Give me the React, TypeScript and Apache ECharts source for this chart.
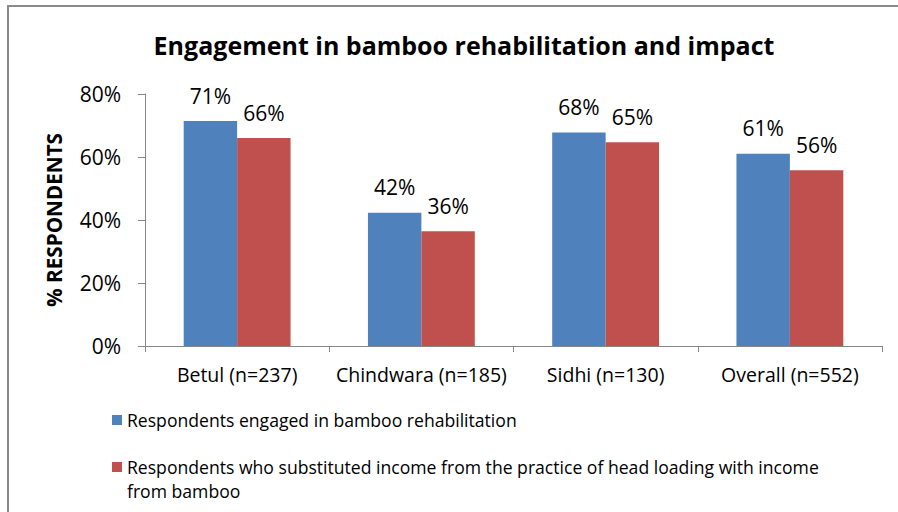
import React, { useEffect, useRef } from "react";
import * as echarts from "echarts";

const categories = ["Betul (n=237)", "Chindwara (n=185)", "Sidhi (n=130)", "Overall (n=552)"];
const engagedValues = [71.4, 42.3, 67.8, 61.0];
const substitutedValues = [66.0, 36.4, 64.7, 55.8];
const seriesNames = [
  "Respondents engaged in bamboo rehabilitation",
  "Respondents who substituted income from the practice of head loading with income from bamboo",
];
const legendLines = [
  "Respondents engaged in bamboo rehabilitation",
  "\nRespondents who substituted income from the practice of head loading with income\nfrom bamboo",
];
const yTicks = [0, 20, 40, 60, 80];
const titleText = "Engagement in bamboo rehabilitation and impact";
const yAxisTitle = "% RESPONDENTS";

const FONT = "'Open Sans', Lato, sans-serif";

export default function App() {
  const ref = useRef<HTMLDivElement>(null);
  useEffect(() => {
    if (!ref.current) return;
    const chart = echarts.init(ref.current, null, { renderer: "svg" });
    const labelStyle = {
      show: true,
      position: "top" as const,
      distance: 15,
      fontFamily: FONT,
      fontSize: 21,
      color: "#000",
      formatter: (p: any) => Math.round(p.value) + "%",
    };
    chart.setOption({
      animation: false,
      backgroundColor: "#fff",
      title: {
        text: titleText,
        left: 459,
        top: 27,
        textAlign: "center",
        textStyle: { fontFamily: FONT, fontSize: 25, fontWeight: "bold", color: "#000" },
      },
      graphic: [
        {
          type: "rect",
          shape: { x: 8, y: 6, width: 1000, height: 1000 },
          style: { fill: "none", stroke: "#8a8a8a", lineWidth: 2 },
          silent: true,
        },
      ],
      legend: {
        orient: "vertical",
        left: 112,
        top: 408,
        height: 300,
        width: 800,
        padding: 0,
        itemWidth: 10,
        itemHeight: 10,
        itemGap: -1,
        icon: "rect",
        data: [seriesNames[0], seriesNames[1]],
        formatter: (name: string) => legendLines[seriesNames.indexOf(name)],
        textStyle: { fontFamily: FONT, fontSize: 17.6, color: "#000", lineHeight: 24 },
      },
      grid: { left: 145, right: 16, top: 94, bottom: 166, containLabel: false },
      xAxis: {
        type: "category",
        data: categories,
        axisLine: { lineStyle: { color: "#868686", width: 1 } },
        axisTick: { show: true, length: 6, lineStyle: { color: "#868686" } },
        axisLabel: { interval: 0, fontFamily: FONT, fontSize: 19.5, color: "#000", margin: 18 },
      },
      yAxis: {
        type: "value",
        min: yTicks[0],
        max: yTicks[yTicks.length - 1],
        interval: 20,
        name: yAxisTitle,
        nameLocation: "middle",
        nameGap: 81,
        nameTextStyle: { fontFamily: FONT, fontSize: 20.7, fontWeight: "bold", color: "#000" },
        axisLine: { show: true, lineStyle: { color: "#868686", width: 1 } },
        axisTick: { show: true, length: 7, lineStyle: { color: "#868686" } },
        splitLine: { show: false },
        axisLabel: {
          fontFamily: FONT,
          fontSize: 21,
          color: "#000",
          margin: 24,
          formatter: (v: number) => v + "%",
        },
      },
      series: [
        {
          name: seriesNames[0],
          type: "bar",
          data: engagedValues,
          barGap: "0%",
          barCategoryGap: "42%",
          itemStyle: { color: "#4F81BD" },
          label: labelStyle,
        },
        {
          name: seriesNames[1],
          type: "bar",
          data: substitutedValues,
          barGap: "0%",
          barCategoryGap: "42%",
          itemStyle: { color: "#C0504D" },
          label: labelStyle,
        },
      ],
    });
    return () => chart.dispose();
  }, []);
  return (
    <div
      ref={ref}
      style={{ position: "absolute", left: 0, top: 0, width: 898, height: 512 }}
    />
  );
}
